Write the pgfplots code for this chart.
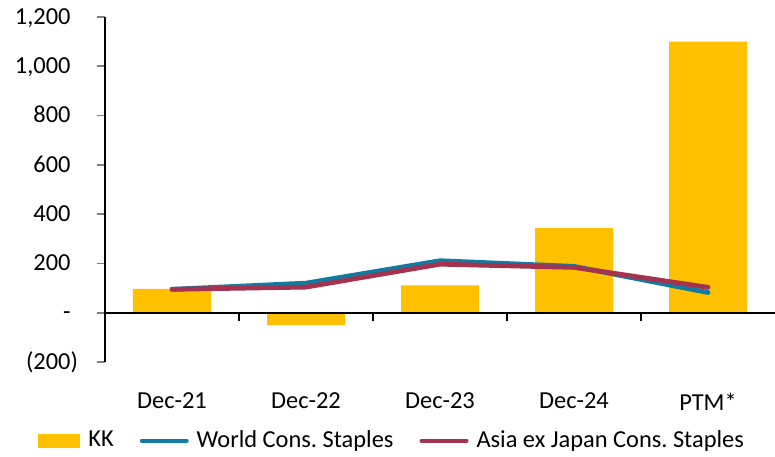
\documentclass[border=0pt]{standalone}
\usepackage{pgfplots}
\pgfplotsset{compat=1.18}
\usepackage{fontspec}
\setmainfont{Carlito}
\frenchspacing

\definecolor{kkgold}{HTML}{FFC000}
\definecolor{worldteal}{HTML}{107CA2}
\definecolor{asiamaroon}{HTML}{A4334F}

\begin{document}
\begin{tikzpicture}[font=\fontsize{12.2pt}{14pt}\selectfont]
  \path[use as bounding box] (-52.5pt,-47pt) rectangle (335pt,181pt);
  \begin{axis}[
    at={(0,0)}, anchor=south west,
    scale only axis,
    width=335pt, height=172.5pt,
    xmin=-0.5, xmax=4.5,
    ymin=-200, ymax=1200,
    axis y line*=left,
    axis x line*=bottom,
    x axis line style={draw=none},
    y axis line style={line width=0.9pt},
    xtick={0,1,2,3,4},
    xticklabels={Dec-21,Dec-22,Dec-23,Dec-24,PTM*},
    xtick style={draw=none},
    xticklabel style={yshift=-8pt},
    ytick={-200,0,200,400,600,800,1000,1200},
    yticklabels={(200),-\phantom{)},200\phantom{)},400\phantom{)},600\phantom{)},800\phantom{)},{1,000\phantom{)}},{1,200\phantom{)}}},
    ytick style={line width=0.9pt},
    tick align=outside,
    major tick length=4pt,
    yticklabel style={xshift=-6pt},
    /pgf/number format/assume math mode=true,
    tick label style={font=\fontsize{12.2pt}{14pt}\selectfont},
    clip=false,
    legend columns=3,
    legend style={draw=none, fill=none, inner sep=0pt,
      at={(axis description cs:-0.1,-0.228)}, anchor=west,
      font=\fontsize{12.2pt}{14pt}\selectfont,
      /tikz/every odd column/.append style={column sep=2pt},
      /tikz/every even column/.append style={column sep=11pt}},
  ]
    % KK bars
    \addplot[ybar, bar width=39pt, fill=kkgold, draw=none, bar shift=0pt,
      legend image code/.code={\fill[kkgold] (0pt,-3.5pt) rectangle (21pt,3.5pt);}]
      coordinates {(0,97) (1,-50) (2,111) (3,343) (4,1100)};
    \addlegendentry{KK}
    % World consumer staples
    \addplot[worldteal, line width=2.4pt, line cap=round, line join=round,
      legend image code/.code={\draw[worldteal, line width=2pt, line cap=round] (0pt,0pt) -- (22.5pt,0pt);}]
      coordinates {(0,95) (1,120) (2,211) (3,188) (4,82)};
    \addlegendentry{World Cons. Staples}
    % Asia ex Japan consumer staples
    \addplot[asiamaroon, line width=2.4pt, line cap=round, line join=round,
      legend image code/.code={\draw[asiamaroon, line width=2pt, line cap=round] (0pt,0pt) -- (22.5pt,0pt);}]
      coordinates {(0,95) (1,104) (2,197) (3,184) (4,103)};
    \addlegendentry{Asia ex Japan Cons. Staples}
    % zero line with category separators
    \draw[line width=0.9pt] (axis cs:-0.5,0) -- (axis cs:4.5,0);
    \pgfplotsinvokeforeach{0.5,1.5,2.5,3.5}{
      \draw[line width=0.9pt] (axis cs:#1,0) -- ([yshift=-4pt]axis cs:#1,0);
    }
  \end{axis}
\end{tikzpicture}
\end{document}
